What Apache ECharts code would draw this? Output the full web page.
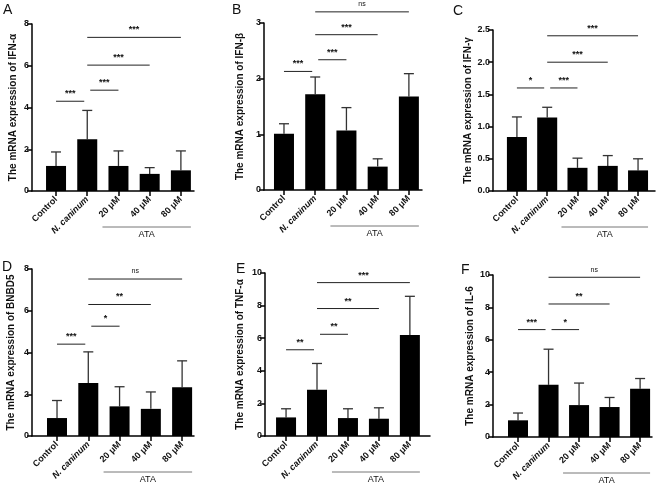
<!DOCTYPE html>
<html>
<head>
<meta charset="utf-8">
<script src="https://cdn.jsdelivr.net/npm/echarts@6/dist/echarts.min.js"></script>
<style>
  html, body { margin: 0; padding: 0; background: #fff; }
  #chart { width: 664px; height: 487px; }
</style>
</head>
<body>
<div id="chart"></div>
<script>
const categories = ["Control", "N. caninum", "20 μM", "40 μM", "80 μM"];
const genes = ["IFN-α", "IFN-β", "IFN-γ", "BNBD5", "TNF-α", "IL-6"];
const panelLetters = ["A", "B", "C", "D", "E", "F"];

// bar height (mean) and top of error bar (mean + SD)
const ifnAlphaMean = [1.2, 2.48, 1.2, 0.82, 0.99];
const ifnAlphaUpper = [1.87, 3.86, 1.92, 1.12, 1.92];
const ifnBetaMean = [1.01, 1.72, 1.07, 0.42, 1.68];
const ifnBetaUpper = [1.19, 2.03, 1.48, 0.56, 2.09];
const ifnGammaMean = [0.84, 1.14, 0.36, 0.39, 0.32];
const ifnGammaUpper = [1.15, 1.30, 0.51, 0.55, 0.50];
const bnbd5Mean = [0.86, 2.54, 1.42, 1.3, 2.34];
const bnbd5Upper = [1.7, 4.03, 2.36, 2.11, 3.6];
const tnfAlphaMean = [1.14, 2.84, 1.1, 1.06, 6.2];
const tnfAlphaUpper = [1.67, 4.45, 1.67, 1.73, 8.57];
const il6Mean = [1.03, 3.22, 1.97, 1.85, 2.98];
const il6Upper = [1.48, 5.42, 3.33, 2.44, 3.61];

// y axis range
const yMax = [8, 3, 2.5, 8, 10, 10];
const yStep = [2, 1, 0.5, 2, 2, 2];

// significance brackets: [from category, to category, height, label]
const ifnAlphaSig = [[0, 1, 4.3, "***"], [1, 2, 4.83, "***"], [1, 3, 6.03, "***"], [1, 4, 7.36, "***"]];
const ifnBetaSig = [[0, 1, 2.13, "***"], [1, 2, 2.34, "***"], [1, 3, 2.79, "***"], [1, 4, 3.2, "ns"]];
const ifnGammaSig = [[0, 1, 1.6, "*"], [1, 2, 1.6, "***"], [1, 3, 2.0, "***"], [1, 4, 2.41, "***"]];
const bnbd5Sig = [[0, 1, 4.4, "***"], [1, 2, 5.26, "*"], [1, 3, 6.3, "**"], [1, 4, 7.52, "ns"]];
const tnfAlphaSig = [[0, 1, 5.29, "**"], [1, 2, 6.24, "**"], [1, 3, 7.82, "**"], [1, 4, 9.41, "***"]];
const il6Sig = [[0, 1, 6.63, "***"], [1, 2, 6.63, "*"], [1, 3, 8.21, "**"], [1, 4, 9.86, "ns"]];

// ATA treatment groups (category indices)
const ataGroup = [2, 4];

const means = [ifnAlphaMean, ifnBetaMean, ifnGammaMean, bnbd5Mean, tnfAlphaMean, il6Mean];
const uppers = [ifnAlphaUpper, ifnBetaUpper, ifnGammaUpper, bnbd5Upper, tnfAlphaUpper, il6Upper];
const sigs = [ifnAlphaSig, ifnBetaSig, ifnGammaSig, bnbd5Sig, tnfAlphaSig, il6Sig];

const fontFamily = "Liberation Sans, Arial, sans-serif";

// panel placement
const layout = [
  { left: 32, top: 24, width: 162, height: 167, xMin: -0.77, xMax: 4.42, nameGap: 14, lx: 3, ly: 3 },
  { left: 264, top: 23, width: 158, height: 167, xMin: -0.64, xMax: 4.42, nameGap: 19, lx: 232, ly: 3 },
  { left: 493, top: 30, width: 162, height: 161, xMin: -0.79, xMax: 4.56, nameGap: 16, lx: 453, ly: 4 },
  { left: 32, top: 269, width: 162, height: 167, xMin: -0.8, xMax: 4.38, nameGap: 16, lx: 2, ly: 260 },
  { left: 265, top: 273, width: 165, height: 163, xMin: -0.68, xMax: 4.65, nameGap: 20, lx: 236, ly: 262 },
  { left: 493, top: 275, width: 159, height: 162, xMin: -0.82, xMax: 4.39, nameGap: 18, lx: 461, ly: 263 },
];

const chart = echarts.init(document.getElementById("chart"));

const grids = [];
const xAxes = [];
const yAxes = [];
const titles = [];
const series = [];

layout.forEach((p, i) => {
  grids.push({ left: p.left, top: p.top, width: p.width, height: p.height });

  titles.push({
    text: panelLetters[i],
    left: p.lx,
    top: p.ly,
    padding: 0,
    textStyle: { fontSize: 14, fontWeight: "normal", color: "#111", fontFamily },
  });

  xAxes.push({
    type: "value",
    gridIndex: i,
    min: p.xMin,
    max: p.xMax,
    splitLine: { show: false },
    axisLine: { show: true, onZero: false, lineStyle: { color: "#000", width: 1.5 } },
    axisTick: { show: true, customValues: [0, 1, 2, 3, 4], length: 5, lineStyle: { color: "#000", width: 1.5 } },
    axisLabel: {
      customValues: [0, 1, 2, 3, 4],
      rotate: 45,
      margin: 7,
      fontSize: 9,
      fontWeight: "bold",
      color: "#111",
      fontFamily,
      formatter: (v) => {
        const k = Math.round(v);
        return k === 1 ? "{i|" + categories[k] + "}" : categories[k];
      },
      rich: { i: { fontStyle: "italic", fontWeight: "bold", fontSize: 9, color: "#111", fontFamily } },
    },
  });

  yAxes.push({
    type: "value",
    gridIndex: i,
    min: 0,
    max: yMax[i],
    interval: yStep[i],
    name: "The mRNA expression of " + genes[i],
    nameLocation: "middle",
    nameRotate: 90,
    nameGap: p.nameGap,
    nameTextStyle: { fontSize: 10, fontWeight: "bold", color: "#111", fontFamily },
    splitLine: { show: false },
    axisLine: { show: true, onZero: false, lineStyle: { color: "#000", width: 1.5 } },
    axisTick: { show: true, length: 5, lineStyle: { color: "#000", width: 1.5 } },
    axisLabel: {
      margin: 3,
      fontSize: 9,
      fontWeight: "bold",
      color: "#111",
      fontFamily,
      formatter: (v) => (yStep[i] < 1 ? v.toFixed(1) : String(v)),
    },
  });

  series.push({
    type: "bar",
    xAxisIndex: i,
    yAxisIndex: i,
    barWidth: 20,
    silent: true,
    itemStyle: { color: "#000" },
    data: means[i].map((m, k) => [k, m]),
  });

  // error bars (upper only)
  series.push({
    type: "custom",
    xAxisIndex: i,
    yAxisIndex: i,
    silent: true,
    clip: false,
    data: means[i].map((m, k) => [k, m, uppers[i][k]]),
    renderItem: (params, api) => {
      const base = api.coord([api.value(0), api.value(1)]);
      const top = api.coord([api.value(0), api.value(2)]);
      const style = { stroke: "#333", lineWidth: 1.3 };
      return {
        type: "group",
        children: [
          { type: "line", shape: { x1: base[0], y1: base[1], x2: top[0], y2: top[1] }, style },
          { type: "line", shape: { x1: top[0] - 5, y1: top[1], x2: top[0] + 5, y2: top[1] }, style },
        ],
      };
    },
  });

  // significance lines
  series.push({
    type: "custom",
    xAxisIndex: i,
    yAxisIndex: i,
    silent: true,
    clip: false,
    z: 5,
    data: sigs[i].map((s) => [s[0], s[1], s[2]]),
    renderItem: (params, api) => {
      const s = sigs[i][params.dataIndex];
      const a = api.coord([s[0], s[2]]);
      const b = api.coord([s[1], s[2]]);
      let x1 = a[0];
      let x2 = b[0];
      if (s[1] - s[0] === 1) {
        if (s[0] === 0) x2 -= 3;
        else x1 += 3;
      }
      const ns = s[3] === "ns";
      return {
        type: "group",
        children: [
          { type: "line", shape: { x1, y1: a[1], x2, y2: a[1] }, style: { stroke: "#222", lineWidth: 1 } },
          {
            type: "text",
            x: (x1 + x2) / 2,
            y: a[1] - (ns ? 4 : 3),
            style: {
              text: s[3],
              align: "center",
              verticalAlign: "bottom",
              fontSize: ns ? 7 : 9,
              fontWeight: ns ? "normal" : "bold",
              fill: "#111",
              fontFamily,
            },
          },
        ],
      };
    },
  });

  // ATA group line under the labels
  series.push({
    type: "custom",
    xAxisIndex: i,
    yAxisIndex: i,
    silent: true,
    clip: false,
    data: [[ataGroup[0], ataGroup[1]]],
    renderItem: (params, api) => {
      const a = api.coord([api.value(0), 0]);
      const b = api.coord([api.value(1), 0]);
      const x1 = a[0] - 16;
      const x2 = b[0] + 10;
      return {
        type: "group",
        children: [
          { type: "line", shape: { x1, y1: a[1] + 36, x2, y2: a[1] + 36 }, style: { stroke: "#777", lineWidth: 1 } },
          {
            type: "text",
            x: (x1 + x2) / 2,
            y: a[1] + 44,
            style: { text: "ATA", align: "center", verticalAlign: "middle", fontSize: 9, fill: "#111", fontFamily },
          },
        ],
      };
    },
  });
});

chart.setOption({
  animation: false,
  backgroundColor: "#fff",
  title: titles,
  grid: grids,
  xAxis: xAxes,
  yAxis: yAxes,
  series: series,
});
</script>
</body>
</html>
